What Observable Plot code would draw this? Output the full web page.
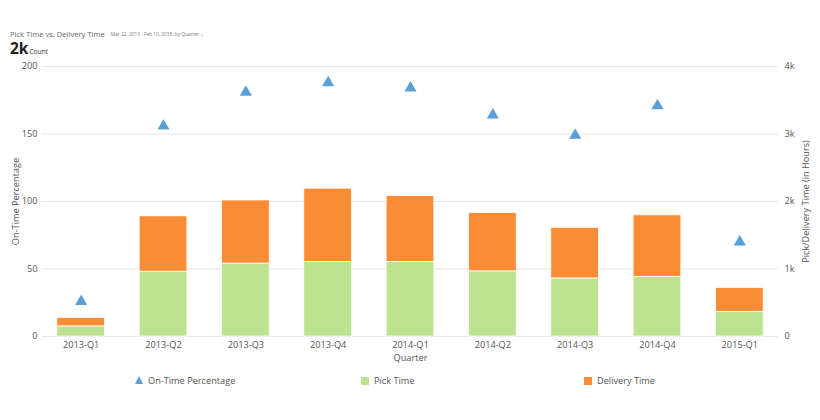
<!DOCTYPE html>
<html>
<head>
<meta charset="utf-8">
<script src="https://cdn.jsdelivr.net/npm/d3@7"></script>
<script src="https://cdn.jsdelivr.net/npm/@observablehq/plot@0.6"></script>
<style>
  body { margin: 0; background: #fff; font-family: "Open Sans", sans-serif; color: #555; }
  #wrap { position: relative; width: 820px; height: 420px; }
  #title { position: absolute; left: 10px; top: 29px; font-size: 7.6px; line-height: 10px; color: #666; white-space: nowrap; }
  #title .sub { font-size: 4.8px; color: #777; margin-left: 6px; vertical-align: 1px; }
  #big { position: absolute; left: 10px; top: 40px; line-height: 16px; white-space: nowrap; color: #222; }
  #big b { font-size: 15.5px; font-weight: 700; }
  #big span { font-size: 6.5px; color: #333; margin-left: 1px; }
  #chart { position: absolute; left: 0; top: 56px; }
  #legend { position: absolute; top: 375px; left: 0; width: 820px; font-size: 9.2px; line-height: 12px; color: #555; }
  .li { position: absolute; white-space: nowrap; }
  .sw { display: inline-block; width: 8px; height: 8px; margin-right: 5px; vertical-align: -0.5px; }
  .tri { display: inline-block; width: 0; height: 0; border-left: 4px solid transparent; border-right: 4px solid transparent; border-bottom: 8px solid #5aa0d6; margin-right: 5px; vertical-align: 0px; }
</style>
</head>
<body>
<div id="wrap">
  <div id="title">Pick Time vs. Delivery Time<span class="sub">Mar 22, 2013 - Feb 10, 2015, by Quarter &#8964;</span></div>
  <div id="big"><b>2k</b><span>Count</span></div>
  <div id="chart"></div>
  <div id="legend">
    <div class="li" style="left:135px"><span class="tri"></span>On-Time Percentage</div>
    <div class="li" style="left:361px"><span class="sw" style="background:#bce38f"></span>Pick Time</div>
    <div class="li" style="left:584px"><span class="sw" style="background:#f98c34"></span>Delivery Time</div>
  </div>
</div>
<script>
const quarters = ["2013-Q1","2013-Q2","2013-Q3","2013-Q4","2014-Q1","2014-Q2","2014-Q3","2014-Q4","2015-Q1"];
const onTimePct = [26, 156, 181, 188, 184, 164, 149, 171, 70];
const pickTime = [150, 960, 1080, 1105, 1105, 965, 860, 880, 365];
const deliveryTime = [125, 820, 935, 1085, 975, 865, 750, 915, 355];
const leftTicks = [0, 50, 100, 150, 200];
const rightTicks = [0, 1000, 2000, 3000, 4000];
const rightTickLabels = ["0", "1k", "2k", "3k", "4k"];

const ratio = 4000 / 200; // right axis units per left axis unit
const bars = [];
quarters.forEach((q, i) => {
  bars.push({quarter: q, series: "Pick Time", value: pickTime[i] / ratio});
  bars.push({quarter: q, series: "Delivery Time", value: deliveryTime[i] / ratio});
});
const pts = quarters.map((q, i) => ({quarter: q, pct: onTimePct[i]}));

const chart = Plot.plot({
  width: 820,
  height: 315,
  marginLeft: 42,
  marginRight: 42,
  marginTop: 10,
  marginBottom: 35,
  style: {fontFamily: "Open Sans, sans-serif", fontSize: "9.2px", color: "#555", background: "#fff"},
  x: {domain: quarters, paddingInner: 0.42, paddingOuter: 0.18, round: false, label: null},
  y: {domain: [0, 200], label: null},
  color: {domain: ["Pick Time", "Delivery Time"], range: ["#bce38f", "#f98c34"]},
  marks: [
    Plot.gridY(leftTicks, {stroke: "#e6e6e6", strokeOpacity: 1}),
    Plot.barY(bars, {x: "quarter", y: "value", fill: "series", stroke: "#fff", strokeWidth: 0.8}),
    Plot.dot(pts, {x: "quarter", y: "pct", symbol: "triangle", r: 4.5, fill: "#5aa0d6", stroke: null}),
    Plot.axisY(leftTicks, {anchor: "left", tickSize: 0, tickPadding: 5, fill: "#555", label: null}),
    Plot.axisY(rightTicks.map(v => v / ratio), {anchor: "right", tickSize: 0, tickPadding: 6, fill: "#555", label: null,
      tickFormat: (d) => rightTickLabels[rightTicks.indexOf(d * ratio)]}),
    Plot.axisX({anchor: "bottom", tickSize: 0, tickPadding: 5, fill: "#555", label: null}),
    Plot.text(["Quarter"], {frameAnchor: "bottom", lineAnchor: "middle", textAnchor: "middle", dy: 22, fill: "#555", fontSize: 9.2}),
    Plot.text(["On-Time Percentage"], {frameAnchor: "left", textAnchor: "middle", lineAnchor: "middle", dx: -26, rotate: -90, fill: "#555", fontSize: 9.2}),
    Plot.text(["Pick/Delivery Time (in Hours)"], {frameAnchor: "right", textAnchor: "middle", lineAnchor: "middle", dx: 28, rotate: -90, fill: "#555", fontSize: 9.2})
  ]
});
document.getElementById("chart").appendChild(chart);
</script>
</body>
</html>
